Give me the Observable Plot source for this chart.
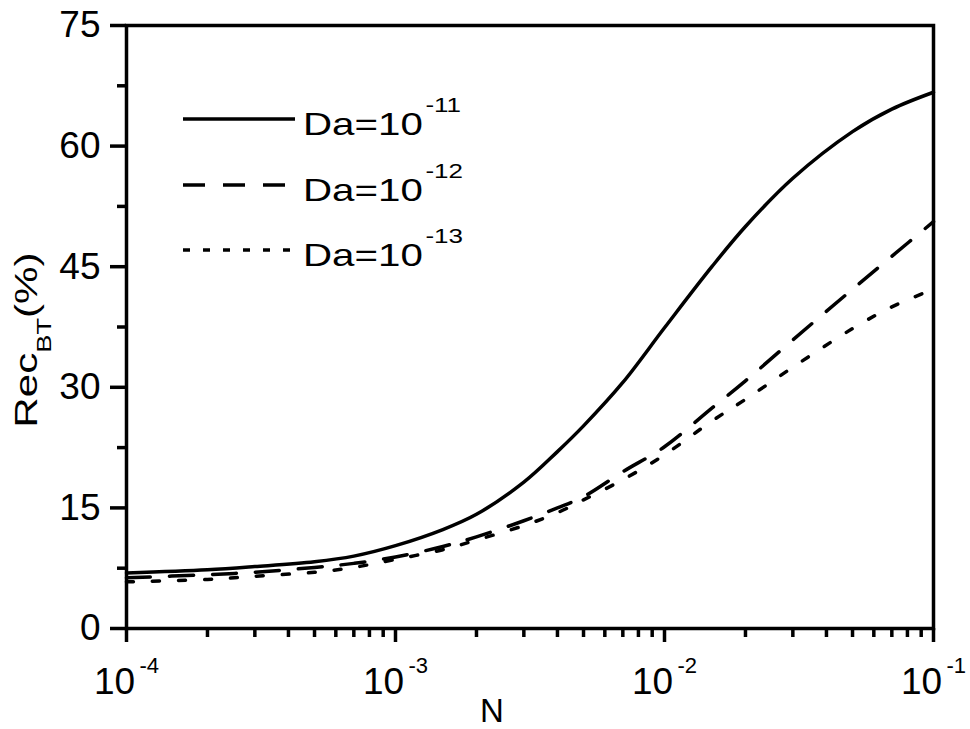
<!DOCTYPE html>
<html>
<head>
<meta charset="utf-8">
<script src="https://cdn.jsdelivr.net/npm/d3@7"></script>
<script src="https://cdn.jsdelivr.net/npm/@observablehq/plot@0.6"></script>
<style>
  html, body { margin: 0; padding: 0; background: #fff; }
  #chart { width: 970px; height: 729px; }
</style>
</head>
<body>
<div id="chart"></div>
<script>
// ---- data ----
const N = [1e-4, 2e-4, 3e-4, 5e-4, 7e-4, 1e-3, 1.5e-3, 2e-3, 3e-3, 4e-3, 5e-3, 7e-3, 1e-2, 1.5e-2, 2e-2, 3e-2, 5e-2, 7e-2, 1e-1];
const recDa11 = [6.9, 7.3, 7.7, 8.3, 9.0, 10.3, 12.3, 14.2, 18.2, 22.0, 25.2, 30.6, 37.4, 45.0, 50.0, 56.0, 61.8, 64.6, 66.7];
const recDa12 = [6.3, 6.7, 7.0, 7.6, 8.1, 8.9, 10.2, 11.4, 13.4, 15.0, 16.4, 19.5, 22.6, 27.4, 30.8, 35.9, 42.2, 46.3, 50.6];
const recDa13 = [5.8, 6.1, 6.5, 7.0, 7.6, 8.6, 9.8, 11.0, 12.8, 14.4, 16.0, 18.5, 21.6, 25.8, 28.5, 32.5, 37.3, 40.0, 42.2];
const seriesNames = ["-11", "-12", "-13"];
const yTicks = [0, 15, 30, 45, 60, 75];
const yMinorTicks = [7.5, 22.5, 37.5, 52.5, 67.5];
const xTicks = [1e-4, 1e-3, 1e-2, 1e-1];
const xTickExponents = ["-4", "-3", "-2", "-1"];
const xMinorTicks = [2e-4,3e-4,4e-4,5e-4,6e-4,7e-4,8e-4,9e-4,2e-3,3e-3,4e-3,5e-3,6e-3,7e-3,8e-3,9e-3,2e-2,3e-2,4e-2,5e-2,6e-2,7e-2,8e-2,9e-2];

const dashes = [null, "24,19", "7,19"];
const series = [recDa11, recDa12, recDa13];
const rows = [];
series.forEach((vals, s) => vals.forEach((v, i) => rows.push({N: N[i], rec: v, s})));

const font = "'Liberation Sans', Arial, Helvetica, sans-serif";

const marks = [
  Plot.frame({strokeWidth: 3.5}),
  Plot.axisY({ticks: yTicks, tickSize: 16, tickPadding: 10, fontSize: 37, label: null, strokeWidth: 3.5}),
  Plot.axisY({ticks: yMinorTicks, tickSize: 9, tickFormat: () => "", label: null, strokeWidth: 3.5}),
  Plot.axisX({ticks: xTicks, tickSize: 14, tickFormat: () => "", label: null, strokeWidth: 3.5}),
  Plot.axisX({ticks: xMinorTicks, tickSize: 9, tickFormat: () => "", label: null, strokeWidth: 3.5}),
  Plot.text(xTicks, {x: d => d, frameAnchor: "bottom", text: () => "10", lineAnchor: "bottom", textAnchor: "middle", dx: -12, dy: 65, fontSize: 37}),
  Plot.text(xTicks, {x: d => d, frameAnchor: "bottom", text: (d, i) => xTickExponents[i], lineAnchor: "bottom", textAnchor: "start", dx: 13, dy: 44, fontSize: 22})
];
series.forEach((vals, s) => {
  marks.push(Plot.line(rows.filter(r => r.s === s), {
    x: "N", y: "rec", stroke: "black", strokeWidth: 3.5,
    strokeDasharray: dashes[s] || undefined, curve: "catmull-rom"
  }));
});

const svg = Plot.plot({
  width: 970, height: 729,
  marginLeft: 126, marginRight: 37, marginTop: 25, marginBottom: 101,
  x: {type: "log", domain: [1e-4, 1e-1]},
  y: {domain: [0, 75]},
  style: {fontFamily: font, color: "black", background: "white"},
  marks
});
document.getElementById("chart").appendChild(svg);

// ---- axis titles and legend (text with sub/superscripts) ----
const root = d3.select(svg);
root.append("text").attr("x", 492).attr("y", 722).attr("text-anchor", "middle")
  .attr("font-size", 33).attr("font-family", font).attr("fill", "black").text("N");

const yl = root.append("g").attr("transform", "translate(37,340) rotate(-90) scale(1.36,1)")
  .append("text").attr("x", 0).attr("y", 0).attr("text-anchor", "middle")
  .attr("font-size", 31).attr("font-family", font).attr("fill", "black");
yl.append("tspan").text("Rec");
yl.append("tspan").attr("font-size", 20).attr("dy", 14).text("BT");
yl.append("tspan").attr("dy", -14).text("(%)");

const legY = [119, 185, 250];
seriesNames.forEach((name, i) => {
  const g = root.append("g");
  const ln = g.append("line").attr("x1", 183).attr("x2", 295).attr("y1", legY[i]).attr("y2", legY[i])
    .attr("stroke", "black").attr("stroke-width", 3.5);
  if (dashes[i]) ln.attr("stroke-dasharray", i === 1 ? "22,18" : "7,13");
  const t = g.append("g").attr("transform", `translate(303,${legY[i] + 16}) scale(1.3,1)`)
    .append("text").attr("text-anchor", "start").attr("font-size", 31).attr("font-family", font).attr("fill", "black");
  t.append("tspan").text("Da=10");
  t.append("tspan").attr("font-size", 20).attr("dy", -23).attr("dx", 2).text(name);
});
</script>
</body>
</html>
